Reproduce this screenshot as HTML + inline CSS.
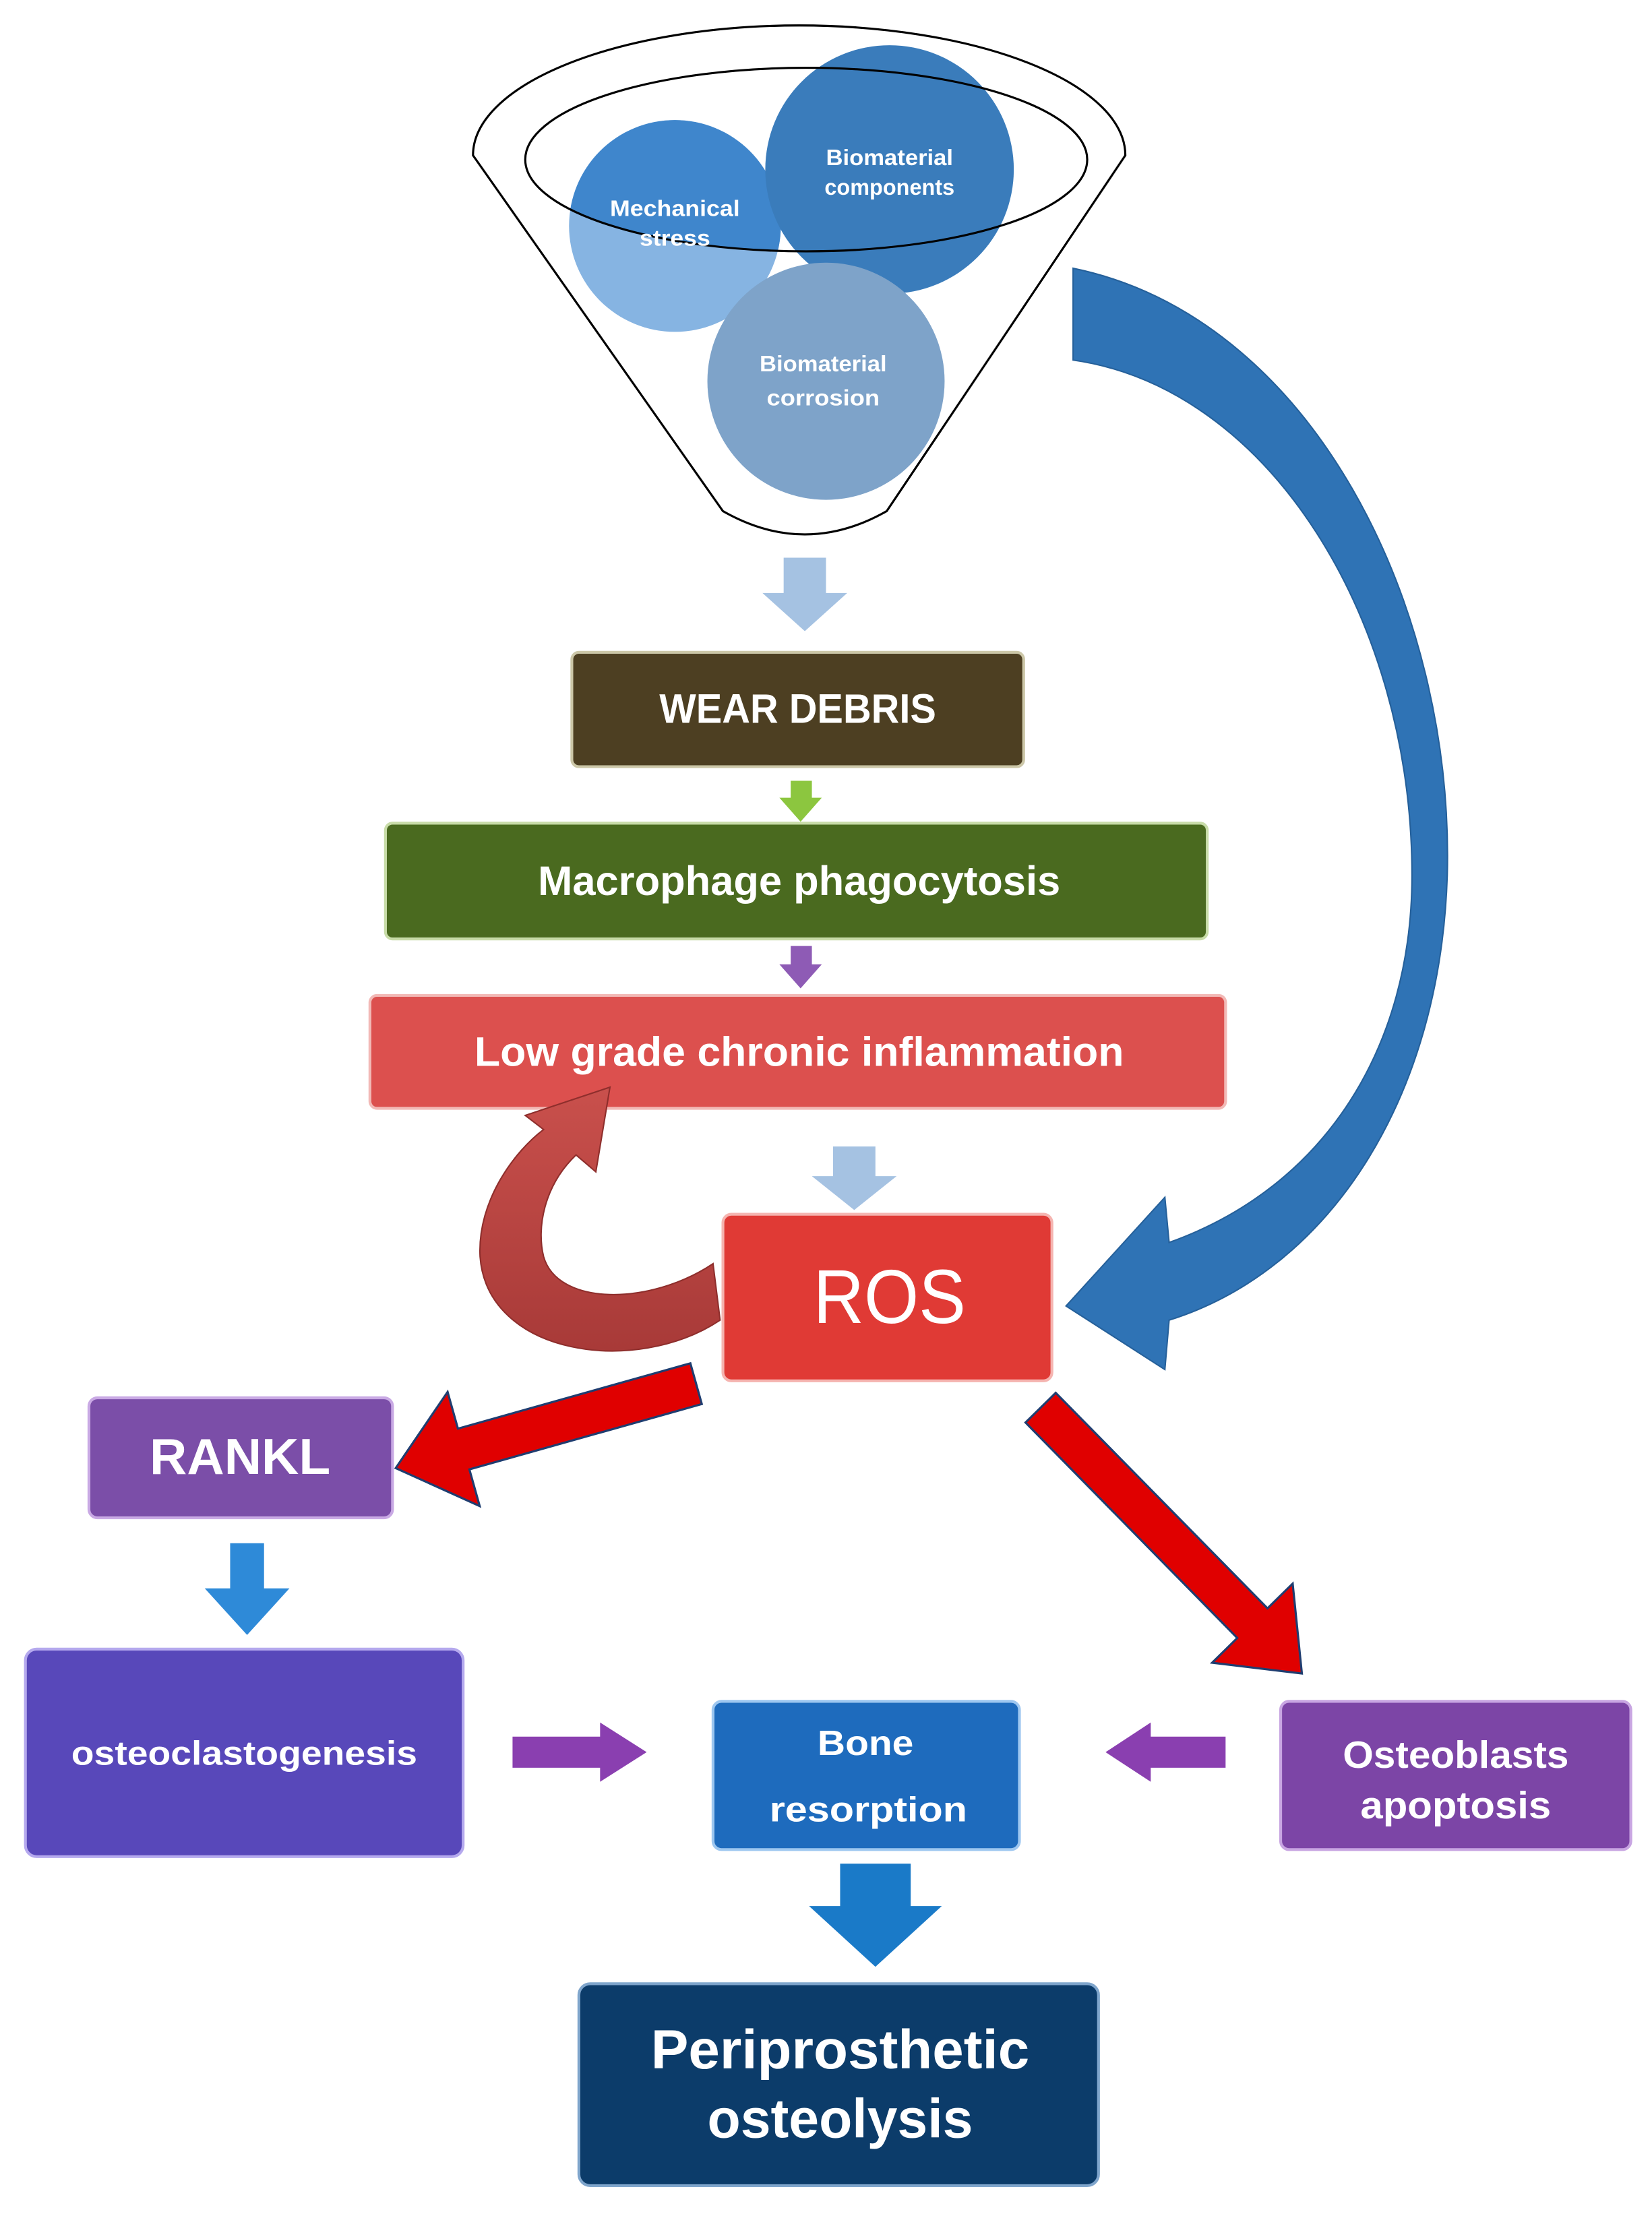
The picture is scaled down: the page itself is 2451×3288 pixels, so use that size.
<!DOCTYPE html>
<html><head><meta charset="utf-8"><style>
html,body{margin:0;padding:0;background:#fff;}
svg{display:block;}
text{font-family:"Liberation Sans Narrow","Liberation Sans",sans-serif;font-weight:bold;fill:#fff;text-anchor:middle;}
</style></head><body>
<svg width="2451" height="3288" viewBox="0 0 1170 1569.5" xmlns="http://www.w3.org/2000/svg">
<defs>
<clipPath id="inner"><ellipse cx="571" cy="113" rx="199" ry="65"/></clipPath>
<linearGradient id="rg" x1="0" y1="0" x2="0" y2="1"><stop offset="0" stop-color="#c9504c"/><stop offset="1" stop-color="#a83a38"/></linearGradient>
</defs>
<!-- funnel -->
<path d="M335,110 A231,92 0 0 1 797,110 L628,362 Q570,395 512,362 Z" fill="#fff" stroke="#000" stroke-width="1.5"/>
<circle cx="478" cy="160" r="75" fill="#86b4e2"/>
<circle cx="478" cy="160" r="75" fill="#3f86cc" clip-path="url(#inner)"/>
<circle cx="630" cy="120" r="88" fill="#3a7cbb"/>
<circle cx="585" cy="270" r="84" fill="#7ea3c9"/>
<ellipse cx="571" cy="113" rx="199" ry="65" fill="none" stroke="#000" stroke-width="1.5"/>
<text x="478" y="153" font-size="16" textLength="92" lengthAdjust="spacingAndGlyphs">Mechanical</text>
<text x="478" y="174" font-size="16" textLength="50" lengthAdjust="spacingAndGlyphs">stress</text>
<text x="630" y="117" font-size="16" textLength="90" lengthAdjust="spacingAndGlyphs">Biomaterial</text>
<text x="630" y="138" font-size="16" textLength="92" lengthAdjust="spacingAndGlyphs">components</text>
<text x="583" y="263" font-size="16" textLength="90" lengthAdjust="spacingAndGlyphs">Biomaterial</text>
<text x="583" y="287" font-size="16" textLength="80" lengthAdjust="spacingAndGlyphs">corrosion</text>
<!-- big blue curved arrow -->
<path d="M760,190 C930,225 1030,430 1025,620 C1020,780 940,900 828,935 L825,970 L755,925 L825,848 L828,880 C940,840 1000,740 1000,620 C1000,440 900,275 760,255 Z" fill="#2f73b5" stroke="#25609a" stroke-width="1"/>
<!-- small arrows -->
<polygon points="555,395 585,395 585,420 600,420 570,447 540,420 555,420" fill="#a5c2e2"/>
<polygon points="560,553 575,553 575,565 582,565 567,582 552,565 560,565" fill="#8cc63f"/>
<polygon points="560,670 575,670 575,683 582,683 567,700 552,683 560,683" fill="#8e5bb5"/>
<polygon points="590,812 620,812 620,833 635,833 605,857 575,833 590,833" fill="#a5c2e2"/>
<polygon points="163,1093 187,1093 187,1125 205,1125 175,1158 145,1125 163,1125" fill="#2e8ad8"/>
<polygon points="595,1320 645,1320 645,1350 667,1350 620,1393 573,1350 595,1350" fill="#1a7ac8"/>
<polygon points="363,1230 425,1230 425,1220 458,1241 425,1262 425,1252 363,1252" fill="#8a3fb0"/>
<polygon points="868,1230 815,1230 815,1220 783,1241 815,1262 815,1252 868,1252" fill="#8a3fb0"/>
<!-- boxes -->
<g stroke-width="2">
<rect x="405" y="462" width="320" height="81" rx="5" fill="#4d3f22" stroke="#ccc7a8"/>
<rect x="273" y="583" width="582" height="82" rx="5" fill="#4a6a1f" stroke="#c8dca8"/>
<rect x="262" y="705" width="606" height="80" rx="5" fill="#dc504e" stroke="#f2b9b6"/>
<rect x="512" y="860" width="233" height="118" rx="6" fill="#e03a35" stroke="#f5b4b0"/>
<rect x="63" y="990" width="215" height="85" rx="6" fill="#7b4ea8" stroke="#c9a9e4"/>
<rect x="18" y="1168" width="310" height="147" rx="8" fill="#5848ba" stroke="#b5a9ee"/>
<rect x="505" y="1205" width="217" height="105" rx="6" fill="#1e6bbd" stroke="#9ec7f0"/>
<rect x="907" y="1205" width="248" height="105" rx="6" fill="#7c45a6" stroke="#c8a5e2"/>
<rect x="410" y="1405" width="368" height="143" rx="8" fill="#0c3c6a" stroke="#7fa5cc"/>
</g>
<!-- red curved arrow -->
<path d="M505,895 L510,935 C450,975 345,960 340,890 C338,850 365,815 385,800 L372,790 L432,770 L422,830 L408,818 C385,840 380,870 385,890 C395,925 460,925 505,895 Z" fill="url(#rg)" stroke="#8e2e2c" stroke-width="1"/>
<!-- red straight arrows -->
<g transform="translate(493,980) rotate(164.3)"><polygon points="0,-15 171,-15 171,-42 221,0 171,42 171,15 0,15" fill="#e00000" stroke="#1f3d70" stroke-width="1.5"/></g>
<g transform="translate(737,997) rotate(45.5)"><polygon points="0,-15 214,-15 214,-40 264,0 214,40 214,15 0,15" fill="#e00000" stroke="#1f3d70" stroke-width="1.5"/></g>
<!-- labels -->
<text x="565" y="512" font-size="29" textLength="196" lengthAdjust="spacingAndGlyphs">WEAR DEBRIS</text>
<text x="566" y="634" font-size="29" textLength="370" lengthAdjust="spacingAndGlyphs">Macrophage phagocytosis</text>
<text x="566" y="755" font-size="29" textLength="460" lengthAdjust="spacingAndGlyphs">Low grade chronic inflammation</text>
<text x="630" y="937" font-size="54" style="font-weight:normal" textLength="108" lengthAdjust="spacingAndGlyphs">ROS</text>
<text x="170" y="1044" font-size="36" textLength="128" lengthAdjust="spacingAndGlyphs">RANKL</text>
<text x="173" y="1250" font-size="24" textLength="245" lengthAdjust="spacingAndGlyphs">osteoclastogenesis</text>
<text x="613" y="1243" font-size="25" textLength="68" lengthAdjust="spacingAndGlyphs">Bone</text>
<text x="615" y="1290" font-size="25" textLength="140" lengthAdjust="spacingAndGlyphs">resorption</text>
<text x="1031" y="1252" font-size="27" textLength="160" lengthAdjust="spacingAndGlyphs">Osteoblasts</text>
<text x="1031" y="1288" font-size="27" textLength="135" lengthAdjust="spacingAndGlyphs">apoptosis</text>
<text x="595" y="1465" font-size="39" textLength="268" lengthAdjust="spacingAndGlyphs">Periprosthetic</text>
<text x="595" y="1514" font-size="39" textLength="188" lengthAdjust="spacingAndGlyphs">osteolysis</text>
</svg>
</body></html>
